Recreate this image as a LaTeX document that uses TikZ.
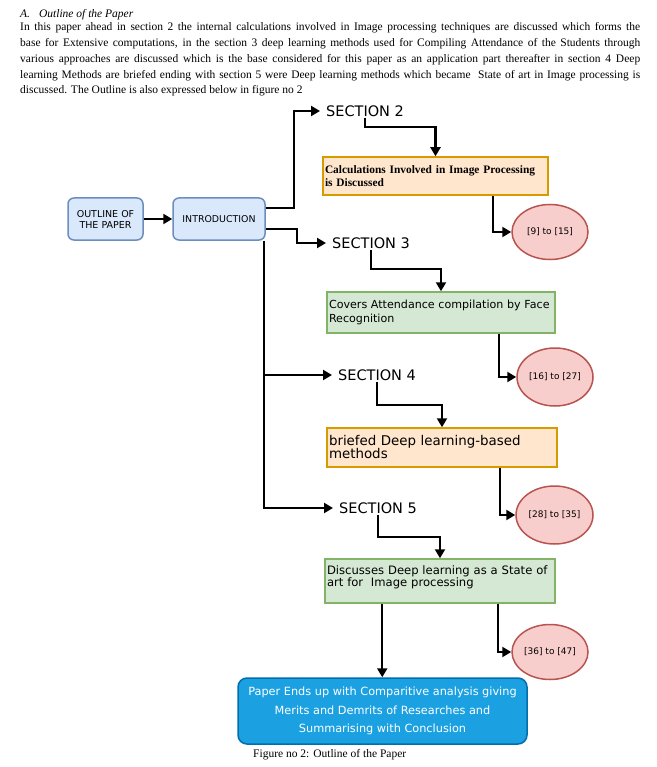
\documentclass[tikz,border=0pt]{standalone}
\usepackage{fontspec}
\setmainfont{Liberation Serif}
\newfontfamily\dia{DejaVu Sans}
\usetikzlibrary{arrows.meta,shapes.geometric}
\definecolor{orfill}{HTML}{FFE6CC}\definecolor{ordraw}{HTML}{D79B00}
\definecolor{grfill}{HTML}{D5E8D4}\definecolor{grdraw}{HTML}{82B366}
\definecolor{rdfill}{HTML}{F8CECC}\definecolor{rddraw}{HTML}{B85450}
\definecolor{blfill}{HTML}{DAE8FC}\definecolor{bldraw}{HTML}{6C8EBF}
\definecolor{fnfill}{HTML}{1BA1E2}\definecolor{fndraw}{HTML}{006EAF}
\tikzset{
  arr/.style={line width=2.2pt,-{Triangle[length=9pt,width=10pt]}},
  para/.style={anchor=base west,inner sep=0pt,font=\fontsize{11.5}{13}\selectfont},
  bluebox/.style={draw=bldraw,fill=blfill,line width=1.5pt,rounded corners=6pt,align=center,inner sep=1pt},
  secl/.style={anchor=west,inner sep=1pt,font=\dia\fontsize{14.5}{16}\selectfont},
  textbox/.style={draw,line width=1.5pt,align=left,inner xsep=2pt,inner ysep=1pt},
  refell/.style={ellipse,draw=rddraw,fill=rdfill,line width=1.5pt,inner sep=0pt,font=\dia\fontsize{9}{10}\selectfont},
}
\begin{document}
\begin{tikzpicture}[x=1pt,y=-1pt]
\useasboundingbox (0,0) rectangle (656,767);
\fill[white] (0,0) rectangle (656,767);
% paragraph
\node[para] (t0) at (20,18) {\itshape A.\hspace{9pt}Outline of the Paper};
\node[para] (p1) at (20,31) {\makebox[620pt][s]{In this paper ahead in section 2 the internal calculations involved in Image processing techniques are discussed which forms the}};
\node[para] (p2) at (20,46.75) {\makebox[620pt][s]{base for Extensive computations, in the section 3 deep learning methods used for Compiling Attendance of the Students through}};
\node[para] (p3) at (20,62.5) {\makebox[620pt][s]{various approaches are discussed which is the base considered for this paper as an application part thereafter in section 4 Deep}};
\node[para] (p4) at (20,78.25) {\makebox[620pt][s]{learning Methods are briefed ending with section 5 were Deep learning methods which became\ \ State of art in Image processing is}};
\node[para] (p5) at (20,94) {discussed. The Outline is also expressed below in figure no 2};
% boxes
\node[bluebox,minimum width=75pt,minimum height=42pt,font=\dia\fontsize{9.5}{11}\selectfont] (outline) at (105.5,219) {OUTLINE OF\\THE PAPER};
\node[bluebox,minimum width=92pt,minimum height=42pt,font=\dia\fontsize{9.4}{11}\selectfont] (intro) at (219,219) {INTRODUCTION};
\node[secl] (s2) at (325,111) {SECTION 2};
\node[secl] (s3) at (331,243) {SECTION 3};
\node[secl] (s4) at (337,375) {SECTION 4};
\node[secl] (s5) at (338,508) {SECTION 5};
\node[textbox,draw=ordraw,fill=orfill,text width=221pt,minimum height=38pt,font=\bfseries\fontsize{11.4}{13}\selectfont] (calc) at (435.5,176) {Calculations Involved in Image Processing\\is Discussed};
\node[textbox,draw=grdraw,fill=grfill,text width=224pt,minimum height=41pt,font=\dia\fontsize{11.1}{14}\selectfont] (green1) at (441,312.5) {Covers Attendance compilation by Face\\Recognition};
\node[textbox,draw=ordraw,fill=orfill,text width=226pt,minimum height=39pt,font=\dia\fontsize{13.4}{13}\selectfont] (orange2) at (442,447.5) {briefed Deep learning-based\\methods};
\node[textbox,draw=grdraw,fill=grfill,text width=226pt,minimum height=44pt,font=\dia\fontsize{11.6}{12}\selectfont] (green2) at (440,581) {Discusses Deep learning as a State of\\art for\ \ Image processing\\[-3pt]\mbox{}};
\node[refell,minimum width=76pt,minimum height=55pt] (e1) at (550,232) {[9] to [15]};
\node[refell,minimum width=76pt,minimum height=58pt] (e2) at (555,377) {[16] to [27]};
\node[refell,minimum width=77pt,minimum height=58pt] (e3) at (554.5,515) {[28] to [35]};
\node[refell,minimum width=76pt,minimum height=55pt] (e4) at (550,652) {[36] to [47]};
\node[draw=fndraw,fill=fnfill,line width=1.5pt,rounded corners=9pt,minimum width=289pt,minimum height=66pt,align=center,text=white,font=\dia\fontsize{11.3}{18.5}\selectfont] (final) at (382.5,711) {Paper Ends up with Comparitive analysis giving\\Merits and Demrits of Researches and\\Summarising with Conclusion};
\node[anchor=base west,inner sep=0pt,font=\fontsize{11.5}{13}\selectfont] (cap) at (253,757) {Figure no 2: Outline of the Paper};
% connectors
\draw[arr] (outline) -- (intro);
\draw[arr] ([yshift=11pt]intro.east) -- ++(28,0) |- ([xshift=-5pt]s2.west);
\draw[arr] ([yshift=-10pt]intro.east) -- ++(31,0) |- ([xshift=-5pt]s3.west);
\draw[arr] ([xshift=-2pt]intro.south east) |- ([xshift=-5pt]s4.west);
\draw[arr] ([xshift=-2pt]intro.south east) |- ([xshift=-5pt]s5.west);
\draw[arr] (s2.south) -- ++(0,9) -| (calc.north);
\draw[arr] (s3.south) -- ++(0,19) -| (green1.north);
\draw[arr] (s4.south) -- ++(0,23) -| (orange2.north);
\draw[arr] (s5.south) -- ++(0,22) -| (green2.north);
\draw[arr] ([xshift=-56pt]calc.south east) |- (e1.west);
\draw[arr] ([xshift=-57pt]green1.south east) |- (e2.west);
\draw[arr] ([xshift=-58pt]orange2.south east) |- (e3.west);
\draw[arr] ([xshift=-58pt]green2.south east) |- (e4.west);
\draw[arr] ([xshift=58pt]green2.south west) -- ([xshift=58pt]green2.south west |- final.north);
\end{tikzpicture}
\end{document}
